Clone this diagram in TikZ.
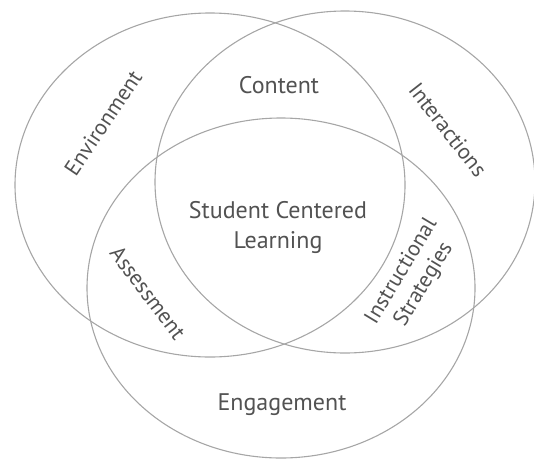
\documentclass[tikz,border=0pt]{standalone}
\usepackage{fontspec}
\setmainfont{PT Sans}

\begin{document}
\begin{tikzpicture}[x=1pt, y=1pt,
    ring/.style={draw=black!35, line width=1.1pt},
    area/.style={text=black!68, font=\fontsize{24}{30}\selectfont, inner sep=0pt, align=center},
    tilted/.style={area, font=\fontsize{22}{26}\selectfont}]

  \useasboundingbox (0,0) rectangle (534,459);

  % Three overlapping rings
  \draw[ring] (210,274) ellipse [x radius=195, y radius=172];
  \draw[ring] (345,277) ellipse [x radius=190, y radius=171];
  \draw[ring] (281,171) ellipse [x radius=194, y radius=170];

  % Single-ring labels
  \node[tilted, rotate=56]  (env)    at (103,336) {Environment};
  \node[tilted, rotate=-52] (inter)  at (448,329) {Interactions};
  \node[area]               (engage) at (282,54)  {Engagement};

  % Pairwise overlaps
  \node[area]               (content) at (279,374) {Content};
  \node[tilted, rotate=-53] (assess)  at (148,166) {Assessment};
  \node[tilted, rotate=59]  (instr)   at (413,181) {Instructional\\Strategies};

  % Middle of all three
  \node[area] (scl) at (278,232) {Student Centered\\Learning};

\end{tikzpicture}
\end{document}
